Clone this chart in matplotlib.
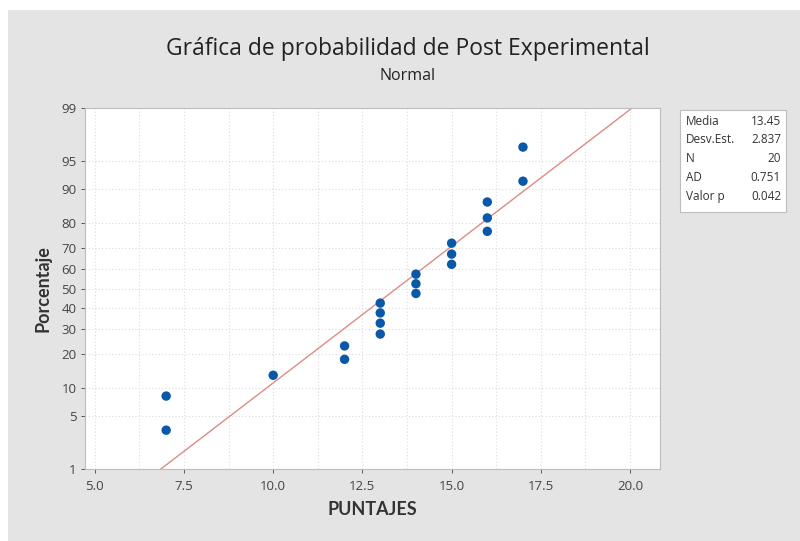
import matplotlib
matplotlib.use("Agg")
import matplotlib.pyplot as plt
from matplotlib.patches import Rectangle
from statistics import NormalDist
import numpy as np

plt.rcParams['font.family'] = ['Open Sans', 'DejaVu Sans']

# Data
puntajes = [7, 7, 10, 12, 12, 13, 13, 13, 13, 14, 14, 14, 15, 15, 15, 16, 16, 16, 17, 17]
porcentaje = [3.4, 8.3, 13.2, 18.1, 23.0, 27.9, 32.8, 37.7, 42.6, 47.5,
              52.5, 57.4, 62.3, 67.2, 72.1, 77.0, 81.9, 86.8, 91.7, 96.6]

stat_names = ["Media", "Desv.Est.", "N", "AD", "Valor p"]
stat_values = ["13.45", "2.837", "20", "0.751", "0.042"]
media, desv = 13.45, 2.837

y_ticks = [1, 5, 10, 20, 30, 40, 50, 60, 70, 80, 90, 95, 99]
x_ticks = [5.0, 7.5, 10.0, 12.5, 15.0, 17.5, 20.0]

nd = NormalDist()
def probit(p):
    return nd.inv_cdf(p / 100.0)

fig = plt.figure(figsize=(8, 5.41), dpi=100, facecolor="white")
fig.patches.append(Rectangle((8 / 800, 0), 1, (541 - 10) / 541, transform=fig.transFigure,
                             facecolor="#e4e4e4", edgecolor="none", zorder=-5))

ax = fig.add_axes([0.106, 0.133, 0.719, 0.667])
ax.set_facecolor("white")

# grid
for yt in y_ticks:
    ax.axhline(probit(yt), color="#dcdcdc", lw=0.8, ls=(0, (1, 2)), zorder=1)
for xg in np.arange(5.0, 20.01, 1.25):
    ax.axvline(xg, color="#dcdcdc", lw=0.8, ls=(0, (1, 2)), zorder=1)

# fitted line from the reported mean / std
zz = np.array([probit(1), probit(99)])
ax.plot(media + desv * zz, zz, color="#dc8c86", lw=1.0, zorder=2)

ax.scatter(puntajes, [probit(p) for p in porcentaje], s=46, color="#0a58a8",
           edgecolor="none", zorder=3)

ax.set_xlim(4.72, 20.84)
ax.set_ylim(probit(1), probit(99))
ax.set_xticks(x_ticks)
ax.set_xticklabels([f"{v:.1f}" for v in x_ticks])
ax.set_yticks([probit(v) for v in y_ticks])
ax.set_yticklabels([str(v) for v in y_ticks])
ax.tick_params(colors="#444444", labelsize=9.5, length=3, width=0.6)
ax.tick_params(axis="x", pad=5)
ax.tick_params(axis="y", pad=3)
for s in ax.spines.values():
    s.set_color("#bdbdbd")
    s.set_linewidth(0.8)

ax.set_xlabel("PUNTAJES", fontsize=13, color="#333333", labelpad=6,
              fontweight="bold", family=["Lato", "DejaVu Sans"])
ax.set_ylabel("Porcentaje", fontsize=13, color="#333333", labelpad=7,
              fontweight="bold", family=["Lato", "DejaVu Sans"])

fig.text(0.51, 0.91, "Gráfica de probabilidad de Post Experimental", ha="center",
         va="center", fontsize=16.5, color="#222222")
fig.text(0.51, 0.86, "Normal", ha="center", va="center", fontsize=11.5, color="#222222")

# stats box
fig.patches.append(Rectangle((680 / 800, (541 - 212) / 541), 106 / 800, 102 / 541,
                             transform=fig.transFigure, facecolor="white",
                             edgecolor="#bdbdbd", lw=0.8, zorder=2))
for i, (n, v) in enumerate(zip(stat_names, stat_values)):
    yy = (541 - 121 - i * 19) / 541
    fig.text(686 / 800, yy, n, fontsize=8.5, color="#333333", va="center", ha="left", zorder=3)
    fig.text(781 / 800, yy, v, fontsize=8.5, color="#333333", va="center", ha="right", zorder=3)

fig.savefig("out.png", dpi=100, facecolor=fig.get_facecolor())
